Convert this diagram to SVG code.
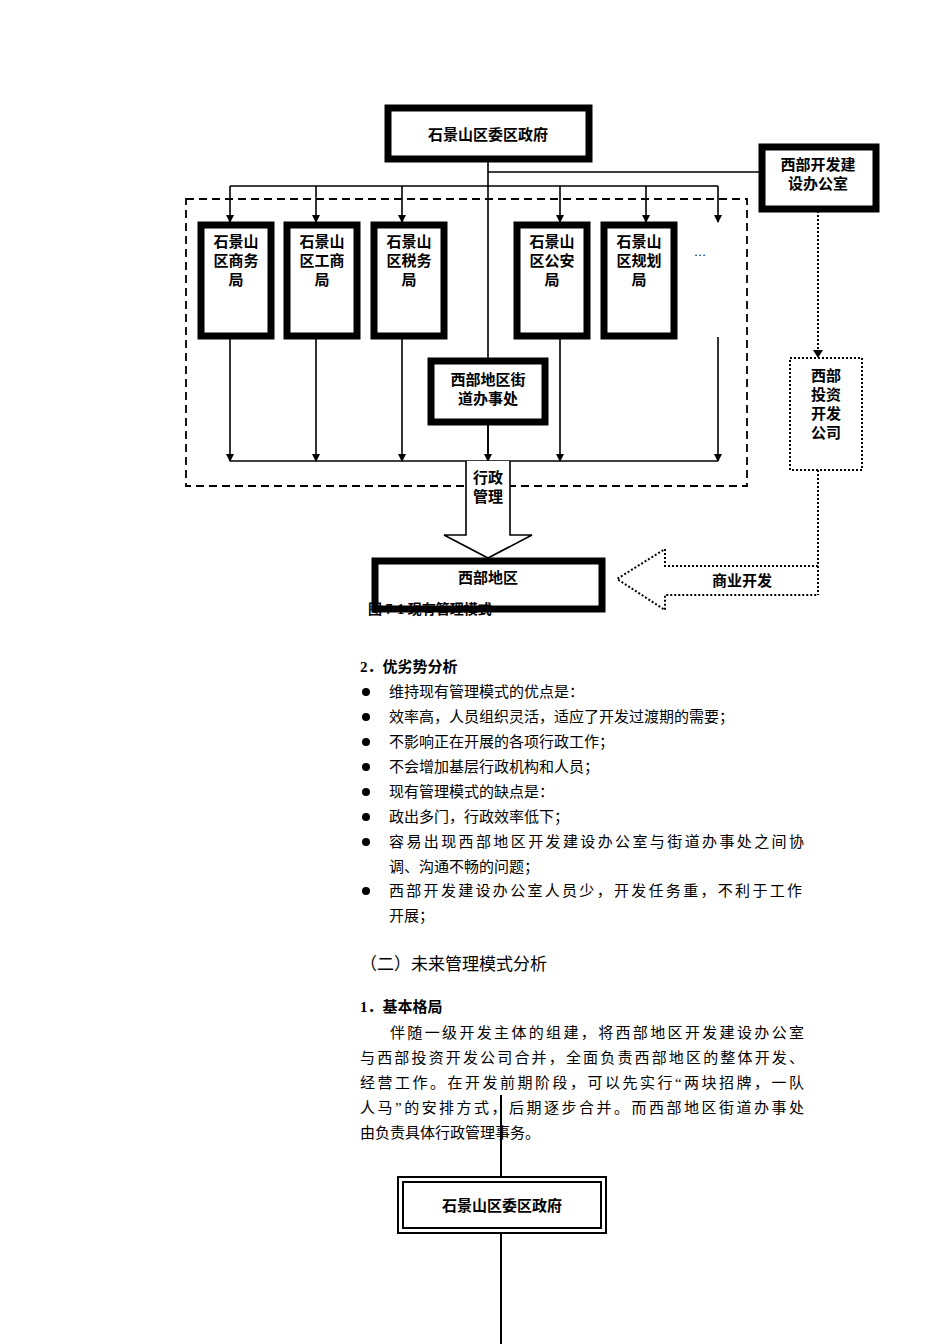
<svg xmlns="http://www.w3.org/2000/svg" width="950" height="1344" viewBox="0 0 950 1344">
<style>
text{font-family:"Liberation Serif","Noto Sans CJK SC",serif;fill:#000}
.n{font-family:"Liberation Sans","Noto Sans CJK SC",sans-serif;font-size:15px;font-weight:bold;text-anchor:middle}
.t{font-size:15px}
.b{font-weight:bold}
.bx{fill:#fff;stroke:#000;stroke-width:7}
.ln{fill:none;stroke:#000;stroke-width:1.6}
.dt{fill:none;stroke:#000;stroke-width:2;stroke-dasharray:2 2}
</style>
<defs><marker id="a" markerWidth="8" markerHeight="8" refX="7" refY="4" orient="auto" markerUnits="userSpaceOnUse"><path d="M0,0L8,4L0,8z"/></marker></defs>
<rect x="0" y="0" width="950" height="1344" fill="#fff"/>
<g id="connectors">
<rect x="186" y="199" width="561" height="287" fill="none" stroke="#000" stroke-width="1.8" stroke-dasharray="8 5"/>
<path class="ln" d="M488 162V460M488 172H760M230 186H718M230 461H718"/>
<line class="ln" x1="230" y1="186" x2="230" y2="222" marker-end="url(#a)"/>
<line class="ln" x1="316" y1="186" x2="316" y2="222" marker-end="url(#a)"/>
<line class="ln" x1="402" y1="186" x2="402" y2="222" marker-end="url(#a)"/>
<line class="ln" x1="560" y1="186" x2="560" y2="222" marker-end="url(#a)"/>
<line class="ln" x1="646" y1="186" x2="646" y2="222" marker-end="url(#a)"/>
<line class="ln" x1="718" y1="186" x2="718" y2="222" marker-end="url(#a)"/>
<line class="ln" x1="230" y1="339" x2="230" y2="461" marker-end="url(#a)"/>
<line class="ln" x1="316" y1="339" x2="316" y2="461" marker-end="url(#a)"/>
<line class="ln" x1="402" y1="339" x2="402" y2="461" marker-end="url(#a)"/>
<line class="ln" x1="560" y1="339" x2="560" y2="461" marker-end="url(#a)"/>
<line class="ln" x1="718" y1="337" x2="718" y2="461" marker-end="url(#a)"/>
<line class="ln" x1="488" y1="425" x2="488" y2="461" marker-end="url(#a)"/>
<path d="M466 461V535H444L488 558L532 535H510V461" fill="#fff" stroke="#000" stroke-width="1.6"/>
<path class="dt" d="M818 211V350"/><path d="M813 350L818 358L823 350z"/>
<path class="dt" d="M818 470V595M818 566H665V549L617 579L665 610V595H818"/>
<line x1="501" y1="1095" x2="501" y2="1176" stroke="#000" stroke-width="2"/>
<line x1="501" y1="1234" x2="501" y2="1344" stroke="#000" stroke-width="2"/>
</g>
<g id="gov"><rect class="bx" x="388" y="108" width="201" height="51"/><text class="n" x="488" y="140" font-size="18">石景山区委区政府</text></g>
<g id="office"><rect class="bx" x="762" y="147" width="114" height="62"/><text class="n" x="818" y="170">西部开发建</text><text class="n" x="818" y="189">设办公室</text></g>
<g id="b1"><rect class="bx" x="201" y="225" width="70" height="111"/><text class="n" x="236" y="247">石景山</text><text class="n" x="236" y="266">区商务</text><text class="n" x="236" y="285">局</text></g>
<g id="b2"><rect class="bx" x="287" y="225" width="70" height="111"/><text class="n" x="322" y="247">石景山</text><text class="n" x="322" y="266">区工商</text><text class="n" x="322" y="285">局</text></g>
<g id="b3"><rect class="bx" x="374" y="225" width="70" height="111"/><text class="n" x="409" y="247">石景山</text><text class="n" x="409" y="266">区税务</text><text class="n" x="409" y="285">局</text></g>
<g id="b4"><rect class="bx" x="517" y="225" width="70" height="111"/><text class="n" x="552" y="247">石景山</text><text class="n" x="552" y="266">区公安</text><text class="n" x="552" y="285">局</text></g>
<g id="b5"><rect class="bx" x="604" y="225" width="70" height="111"/><text class="n" x="639" y="247">石景山</text><text class="n" x="639" y="266">区规划</text><text class="n" x="639" y="285">局</text></g>
<g id="more"><text x="700" y="256" font-size="12" text-anchor="middle">…</text></g>
<g id="street"><rect class="bx" x="431" y="361" width="114" height="61"/><text class="n" x="488" y="385">西部地区街</text><text class="n" x="488" y="404">道办事处</text></g>
<g id="admin"><text class="n" x="488" y="483">行政</text><text class="n" x="488" y="502">管理</text></g>
<g id="invest"><rect x="790" y="358" width="72" height="112" fill="#fff" stroke="#000" stroke-width="2" stroke-dasharray="2 2"/><text class="n" x="826" y="381">西部</text><text class="n" x="826" y="400">投资</text><text class="n" x="826" y="419">开发</text><text class="n" x="826" y="438">公司</text></g>
<g id="biz"><text class="n" x="742" y="586">商业开发</text></g>
<g id="west"><rect x="375" y="561" width="227" height="48" fill="#fff"/><text class="n" x="488" y="583">西部地区</text><text class="b" x="368" y="614" font-size="14">图 7-1  现有管理模式</text><rect x="375" y="561" width="227" height="48" fill="none" stroke="#000" stroke-width="7"/></g>
<g id="text">
<text class="t b" x="360" y="672">2．优劣势分析</text>
<circle cx="366" cy="692" r="4"/><text class="t" x="389" y="697">维持现有管理模式的优点是：</text>
<circle cx="366" cy="717" r="4"/><text class="t" x="389" y="722">效率高，人员组织灵活，适应了开发过渡期的需要；</text>
<circle cx="366" cy="742" r="4"/><text class="t" x="389" y="747">不影响正在开展的各项行政工作；</text>
<circle cx="366" cy="767" r="4"/><text class="t" x="389" y="772">不会增加基层行政机构和人员；</text>
<circle cx="366" cy="792" r="4"/><text class="t" x="389" y="797">现有管理模式的缺点是：</text>
<circle cx="366" cy="817" r="4"/><text class="t" x="389" y="822">政出多门，行政效率低下；</text>
<circle cx="366" cy="842" r="4"/><text class="t" x="389" y="847" textLength="415">容易出现西部地区开发建设办公室与街道办事处之间协</text>
<text class="t" x="389" y="872">调、沟通不畅的问题；</text>
<circle cx="366" cy="891" r="4"/><text class="t" x="389" y="896" textLength="413">西部开发建设办公室人员少，开发任务重，不利于工作</text>
<text class="t" x="389" y="921">开展；</text>
<text x="360" y="970" font-size="17" font-family="Liberation Sans,Noto Sans CJK SC,sans-serif">（二）未来管理模式分析</text>
<text class="t b" x="360" y="1012">1．基本格局</text>
<text class="t" x="390" y="1038" textLength="414">伴随一级开发主体的组建，将西部地区开发建设办公室</text>
<text class="t" x="360" y="1063" textLength="444">与西部投资开发公司合并，全面负责西部地区的整体开发、</text>
<text class="t" x="360" y="1088" textLength="444">经营工作。在开发前期阶段，可以先实行“两块招牌，一队</text>
<text class="t" x="360" y="1113" textLength="444">人马”的安排方式，后期逐步合并。而西部地区街道办事处</text>
<text class="t" x="360" y="1138">由负责具体行政管理事务。</text>
</g>
<g id="gov2"><rect x="398" y="1177" width="208" height="56" fill="#fff" stroke="#000" stroke-width="2"/><rect x="403" y="1182" width="198" height="46" fill="none" stroke="#000" stroke-width="2"/><text class="n" x="502" y="1211" font-size="18">石景山区委区政府</text></g>
</svg>
